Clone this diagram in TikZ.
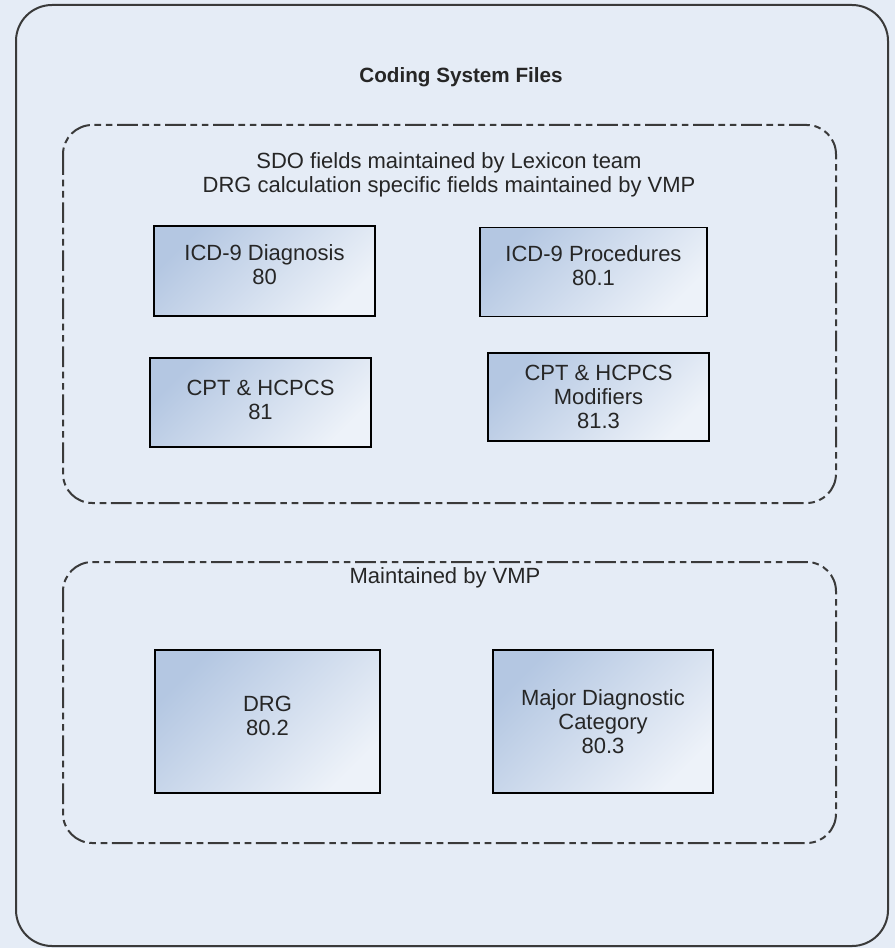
\documentclass[tikz,border=0pt]{standalone}
\usepackage{fontspec}
\setmainfont{Liberation Sans}
\usetikzlibrary{shadings}
\definecolor{paneblue}{HTML}{E5ECF6}
\definecolor{boxblue}{HTML}{B4C7E2}
\definecolor{framegray}{HTML}{3A3A3A}
\definecolor{txtgray}{HTML}{262626}
\tikzset{boxsize/.style 2 args={minimum width=#1*0.75pt, minimum height=#2*0.75pt}}

\begin{document}
\begin{tikzpicture}[x=0.75pt,y=-0.75pt]
			\tikzstyle{every node}=[font=\fontsize{16.5}{18}\selectfont, text=txtgray, align=center]
			\tikzstyle{filebox}=[draw=black, line width=1.4pt, top color=boxblue, bottom color=paneblue!70!white, shading angle=45, inner sep=0pt]
			\tikzstyle{groupbox}=[draw=framegray, line width=1.5pt, rounded corners=22pt, dash pattern=on 15.5pt off 3.5pt on 5pt off 3.5pt on 5pt off 3.5pt]
			
			\fill[paneblue] (0,0) rectangle (895,948);
			\useasboundingbox (0,0) rectangle (895,948);
			
			% outer frame
			\draw[framegray, line width=1.5pt, rounded corners=27pt] (16,5) rectangle (888,946);
			\node[font=\fontsize{15.5}{18}\selectfont\bfseries] (title) at (461,77.5) {Coding System Files};
			
			% coding files kept by the lexicon team
			\draw[groupbox] (63,125) rectangle (836,503);
			\node (sdotext) at (449,175) {SDO fields maintained by Lexicon team\\DRG calculation specific fields maintained by VMP};
			
			\node[filebox, boxsize={221}{90}] (icddiag) at (264.5,271) {ICD-9 Diagnosis\\80\\[-9pt]};
			\node[filebox, boxsize={227}{89}] (icdproc) at (593.5,272) {ICD-9 Procedures\\80.1\\[-9pt]};
			\node[filebox, boxsize={221}{89}] (cpt) at (260.5,402.5) {CPT \& HCPCS\\81\\[-14pt]};
			\node[filebox, boxsize={221}{88}] (cptmod) at (598.5,397) {CPT \& HCPCS\\Modifiers\\81.3};
			
			% files kept by VMP
			\draw[groupbox] (63,562) rectangle (836,843);
			\node (vmptext) at (445,577.5) {Maintained by VMP};
			
			\node[filebox, boxsize={225}{143}] (drg) at (267.5,721.5) {DRG\\80.2\\[-9pt]};
			\node[filebox, boxsize={220}{143}] (mdc) at (603,721.5) {Major Diagnostic\\Category\\80.3};
			
\end{tikzpicture}
\end{document}
